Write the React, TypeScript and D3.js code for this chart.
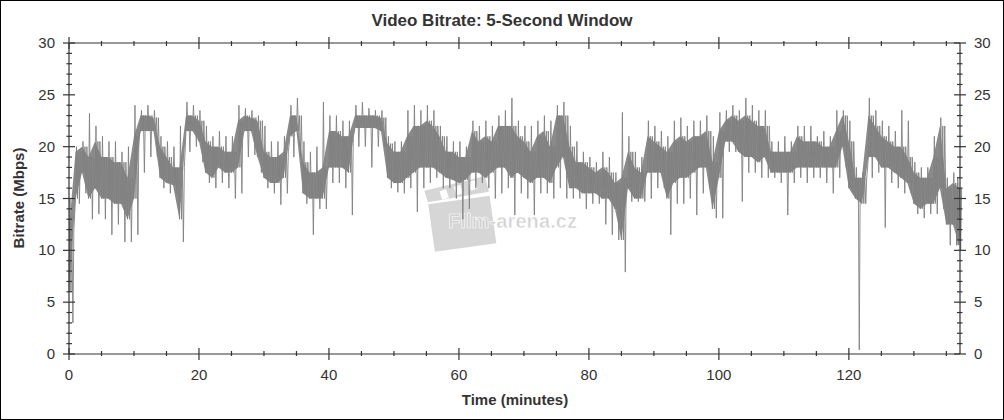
import React from "react";
import * as d3 from "d3";

// Per-minute readings (Mbps), index = minute 0..137
const peakHigh = [15,20,20.5,23.2,22,21,20.5,20.5,19.5,20,24,23.5,24,23.5,21,20.5,20,22,24.3,24,23.5,22,21,
  21.5,21,21,24,23.7,23.5,23,22,20.5,20.5,21,24,24.7,20.5,19.5,20,24.3,23,23,22.5,22.5,24,24.3,
  23.7,23.5,23.5,21,20.5,20.5,23.5,24,23.5,24,23.5,22,21,20.5,20.5,20,22.5,22,22.5,22,23,23.5,24.7,
  22.5,22,22,22.5,23,22.5,24,24.3,22,20.5,19.5,19,18.5,19.5,19,17.5,23.3,21,19.5,19,22.5,22,21.5,
  21,22.5,22.8,22,22.5,22.5,23,21,23.3,23.5,24,23.5,24.7,24,23.5,23.5,20.5,20.5,21,20.5,22,22,22,
  21,21.5,21,23.5,23.5,22.5,18,17.5,24.7,23.5,22.5,22,21.5,23.5,22.5,18.5,18,18,21,22.8,17,17.5,17];
const bandHigh = [12,19.5,20,19,20.5,19,19,18.5,18.5,17,21,23,23,22.8,20,19,18,18,23,23,22.5,20.5,20,
  20,19.5,19.5,22.5,23,22.8,22.5,19.5,19,19,19.5,23,23,18.5,17.5,17.5,18,21.5,21.5,21,21,23,23,
  23,23,22.8,20.3,19.5,19.5,21,22,22,22.5,22,21,19.5,19.5,19,19,21.5,20.5,21,20.5,22,22,22,
  21,20.5,19.5,21,21.5,20,23,23,20,18.5,18.5,18,17.5,18,17.5,16.5,17,19.5,18,17.5,21,20.5,20,
  19.5,20.5,21,20.5,21,21,21.5,18.5,21.5,22.5,23,22.5,23,22.5,22,22,19.5,19.5,19.5,19.5,21,20.5,20.5,
  20.5,20,20,21.5,23,20.5,17,17,23,22,21,20.5,20,20,19,17.5,17,17,19,22,16,16.5,16];
const bandLow = [6,15,17.5,15,16,15,15,14.5,14.5,13,15,21.5,21.5,21.5,17,16.5,16.3,13,21.5,21.5,20.5,17.5,17,
  18,17.5,17.5,18,21.5,21.5,19,17,16.5,16.5,17,21,21.5,15.5,15,15,15,18,18,18,17.5,21.8,21.8,
  21.8,21.8,21.5,17,16.5,16.5,17,17.5,18,18,18,17.5,17,16.8,16.5,16.8,17.5,17.5,17,17.5,18,18,17,
  17.5,17,16.5,17,17,16.5,18,19,16,16,15.5,15.5,15.5,15,15,14,11,16,15,15,17.5,17.5,17.5,
  15,16.5,17,17,17.5,18,18,14,17,20.5,20.5,19.5,19,19,18.5,19,17.5,17.5,17.5,17.5,18,18,18,
  18,18,18,18,20,16,15,14.5,19,19,18,18,17.5,17,16.5,14.5,14,14.5,14.5,16,12.5,12.5,10.5];
const peakLow = [3,14.5,15.5,13,13.5,13,11.5,12.5,10.8,10.8,11.5,17.5,19,19,16,15.5,15.5,10.8,19.5,20,18.5,16.5,16,
  16.5,16,15,15.5,19,19.2,17.5,16,15.5,14.4,15.5,19,19,14.5,11.5,14,14,16.5,16.5,16,13.4,20,20,
  18,20,20,16,15.6,15.5,16,13.7,16,16.5,17,16,16,15,13,14,16,16.5,16,15,15.5,16,13.4,
  15.5,15,13.4,15.5,15.5,15,16,15,15,15,14,14.5,14.5,12.5,11.5,11,7.9,14.7,14.7,14.7,15,16,16,
  11.5,14.5,14.5,15,13.4,15.5,16,13.1,13.1,19.5,19.5,14.7,17.5,17.5,17,17,17,16.5,13.4,16.5,17,16.5,17,
  17,16.5,15.5,17,18,15.5,0.4,14.5,17,17.5,12.2,16.5,16,15.5,15.5,13.5,13.1,13.5,13.5,14,10.5,10.5,10];

const yTicks = [0, 5, 10, 15, 20, 25, 30];
const xTicks = [0, 20, 40, 60, 80, 100, 120];
const title = "Video Bitrate: 5-Second Window";
const xLabel = "Time (minutes)";
const yLabel = "Bitrate (Mbps)";

const W = 1004, H = 420;
const L = 69, R = 960, T = 43, B = 354;
const FONT = "'Liberation Sans', Arial, sans-serif";
const AX = "#333";

export default function App() {
  const x = d3.scaleLinear().domain([0, 137.1]).range([L, R]);
  const y = d3.scaleLinear().domain([0, 30]).range([B, T]);

  const area = d3.area<number>()
    .x((_, i) => x(i))
    .y0((_, i) => y(bandLow[i]))
    .y1((_, i) => y(bandHigh[i]));
  const bandPath = area(bandHigh) || "";

  const pts: [number, number][] = [];
  for (let i = 0; i < peakHigh.length; i++) {
    const t = Math.min(i, 136.6);
    pts.push([x(t), y(bandLow[i])]);
    pts.push([x(t + 0.15), y(peakHigh[i])]);
    pts.push([x(t + 0.3), y(bandLow[i])]);
    pts.push([x(t + 0.45), y(bandHigh[i])]);
    pts.push([x(t + 0.6), y(peakLow[i])]);
    pts.push([x(t + 0.75), y(bandHigh[i])]);
  }
  const linePath = d3.line()(pts) || "";

  const yMinor = d3.range(0, 31, 1).filter((v) => v % 5 !== 0);
  const xMinor = d3.range(0, 137, 5).filter((v) => v % 20 !== 0);

  return (
    <svg width={W} height={H} style={{ position: "absolute", left: 0, top: 0, background: "#fff" }}>
      <rect x={0.5} y={0.5} width={W - 1} height={H - 1} fill="#fff" stroke="#000" />
      {/* watermark */}
      <g fill="#d6d6d6" transform="rotate(-8 460 215)">
        <rect x={430} y={200} width={62} height={48} />
        <polygon points="428,186 490,180 492,196 430,198" />
      </g>
      <g fill="#fff" transform="rotate(-18 460 190)">
        <rect x={440} y={185} width={7} height={9} />
        <rect x={455} y={185} width={7} height={9} />
        <rect x={470} y={185} width={7} height={9} />
      </g>
      <text x={448} y={228} fontFamily={FONT} fontWeight="bold" fontSize={20} fill="#d0d0d0"
        stroke="#ffffff" strokeWidth={0.6} textLength={129}>Film-arena.cz</text>

      {/* data */}
      <path d={bandPath} fill="#8a8a8a" stroke="none" />
      <path d={linePath} fill="none" stroke="#808080" strokeWidth={0.9} />

      {/* axes frame */}
      <g stroke={AX} strokeWidth={1.2} fill="none">
        <line x1={L} y1={B} x2={R} y2={B} />
        <line x1={L} y1={T} x2={R} y2={T} />
        <line x1={L} y1={T} x2={L} y2={B} />
        <line x1={R} y1={T} x2={R} y2={B} />
        {yTicks.map((v) => (
          <g key={"ym" + v}>
            <line x1={L - 6} x2={L + 6} y1={y(v)} y2={y(v)} />
            <line x1={R - 6} x2={R + 6} y1={y(v)} y2={y(v)} />
          </g>
        ))}
        {yMinor.map((v) => (
          <g key={"yn" + v}>
            <line x1={L - 2.5} x2={L + 3} y1={y(v)} y2={y(v)} />
            <line x1={R - 3} x2={R + 2.5} y1={y(v)} y2={y(v)} />
          </g>
        ))}
        {xTicks.map((v) => (
          <g key={"xm" + v}>
            <line x1={x(v)} x2={x(v)} y1={B - 6} y2={B + 6} />
            <line x1={x(v)} x2={x(v)} y1={T - 6} y2={T + 6} />
          </g>
        ))}
        {xMinor.map((v) => (
          <g key={"xn" + v}>
            <line x1={x(v)} x2={x(v)} y1={B - 3} y2={B + 2} />
            <line x1={x(v)} x2={x(v)} y1={T - 2} y2={T + 3} />
          </g>
        ))}
      </g>

      {/* tick labels */}
      <g fontFamily={FONT} fontSize={15} fill={AX}>
        {yTicks.map((v) => (
          <g key={"yl" + v}>
            <text x={55} y={y(v) + 5} textAnchor="end">{v}</text>
            <text x={974} y={y(v) + 5} textAnchor="start">{v}</text>
          </g>
        ))}
        {xTicks.map((v) => (
          <text key={"xl" + v} x={x(v)} y={380} textAnchor="middle">{v}</text>
        ))}
      </g>

      <text x={502} y={26} textAnchor="middle" fontFamily={FONT} fontWeight="bold" fontSize={17} fill={AX}>{title}</text>
      <text x={515} y={405} textAnchor="middle" fontFamily={FONT} fontWeight="bold" fontSize={15} fill={AX}>{xLabel}</text>
      <text transform={`translate(24 ${198}) rotate(-90)`} textAnchor="middle" fontFamily={FONT} fontWeight="bold" fontSize={15} fill={AX}>{yLabel}</text>
    </svg>
  );
}
